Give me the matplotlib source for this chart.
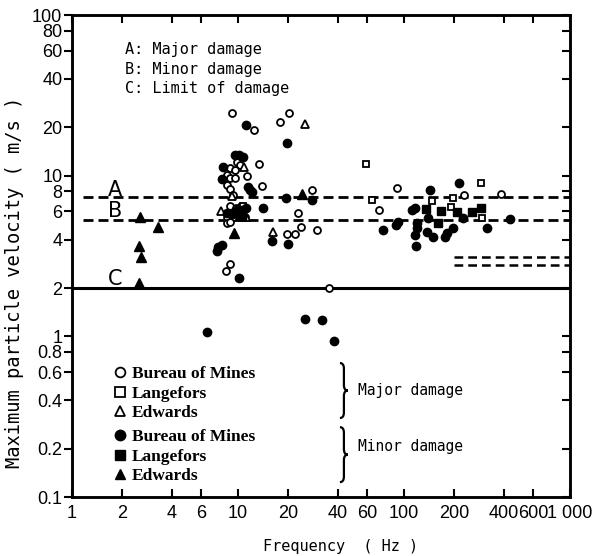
import numpy as np
import matplotlib
matplotlib.use("Agg")
import matplotlib.pyplot as plt
from matplotlib.lines import Line2D
from matplotlib.path import Path
from matplotlib.patches import PathPatch
from matplotlib.ticker import NullLocator
from matplotlib.font_manager import FontProperties

# --- datos (frecuencia Hz, velocidad m/s) ---
bom_major_f = [9.16, 12.5, 17.9, 20.3, 13.3, 9.8, 10.3, 8.95, 9.59, 8.55, 8.95, 9.59,
               11.3, 8.55, 8.95, 14.0, 9.33, 28.0, 8.95, 9.7, 10.4, 8.55, 9.33, 10.3,
               11.0, 23.0, 8.55, 8.95, 19.8, 22.1, 24.0, 29.8, 8.95, 8.43, 35.3, 71.0,
               90.3, 231, 383]
bom_major_v = [24.4, 19.2, 21.6, 24.4, 11.9, 12.2, 11.6, 11.1, 10.8, 10.1, 9.66, 9.66,
               9.95, 8.74, 8.26, 8.65, 7.57, 8.13, 6.47, 6.26, 6.47, 5.52, 5.52, 5.52,
               5.52, 5.83, 5.07, 5.16, 4.33, 4.33, 4.77, 4.58, 2.82, 2.56, 2.0, 6.11,
               8.41, 7.57, 7.68]

lang_major_f = [58.8, 63.9, 147, 198, 291, 191, 294, 10.7, 9.8]
lang_major_v = [11.8, 7.05, 6.98, 7.23, 9.04, 6.35, 5.42, 6.47, 6.02]

edw_major_f = [25.4, 7.87, 10.9, 16.3, 9.2, 10.3, 11.2]
edw_major_v = [21.1, 6.05, 11.3, 4.47, 7.45, 5.7, 5.52]

bom_minor_f = [11.1, 19.7, 9.59, 10.2, 10.7, 8.12, 7.98, 11.5, 11.8, 12.1, 19.5, 27.9,
               11.1, 14.2, 8.55, 9.16, 16.0, 19.9, 7.61, 7.98, 7.44, 10.2, 6.48, 25.3,
               32.2, 37.9, 143, 214, 111, 116, 139, 228, 119, 92.4, 75.0, 90.0, 119,
               116, 137, 150, 177, 181, 196, 318, 118, 435]
bom_minor_v = [20.6, 15.9, 13.4, 13.4, 13.1, 11.3, 9.52, 8.49, 8.13, 7.94, 7.23, 7.05,
               6.26, 6.26, 5.85, 5.77, 3.92, 3.74, 3.61, 3.70, 3.40, 2.30, 1.06, 1.28,
               1.26, 0.94, 8.13, 9.04, 6.11, 6.26, 5.42, 5.42, 5.09, 5.16, 4.58, 4.93,
               4.70, 4.27, 4.47, 4.17, 4.17, 4.37, 4.70, 4.70, 3.65, 5.37]

lang_minor_f = [136, 166, 161, 256, 290, 208, 9.4, 10.1, 10.5]
lang_minor_v = [6.17, 6.05, 5.05, 5.96, 6.26, 5.96, 5.9, 6.1, 5.6]

edw_minor_f = [2.57, 3.30, 2.53, 2.60, 2.53, 9.50, 24.3]
edw_minor_v = [5.52, 4.79, 3.65, 3.11, 2.15, 4.41, 7.68]

# niveles de dano
level_values = [7.36, 5.29]
level_start = 1.17
limit_value = 2.0
extra_levels = [3.1, 2.8]
extra_start = 200

xtick_vals = [1, 2, 4, 6, 10, 20, 40, 60, 100, 200, 400, 600, 1000]
xtick_labels = ["1", "2", "4", "6", "10", "20", "40", "60", "100", "200", "400", "600", "1 000"]
ytick_vals = [0.1, 0.2, 0.4, 0.6, 0.8, 1, 2, 4, 6, 8, 10, 20, 40, 60, 80, 100]
ytick_labels = ["0.1", "0.2", "0.4", "0.6", "0.8", "1", "2", "4", "6", "8",
                "10", "20", "40", "60", "80", "100"]

mono = "DejaVu Sans Mono"
tick_font = "Liberation Sans"


def draw_brace(ax, x0, y0, y1, w):
    """Dibuja una llave '}' en coordenadas de ejes."""
    h = y1 - y0
    ym = (y0 + y1) / 2
    xm = x0 + w / 2
    verts = [(x0, y1), (xm, y1), (xm, y1 - 0.1 * h),
             (xm, ym + 0.1 * h), (xm, ym), (x0 + w, ym),
             (xm, ym), (xm, ym - 0.1 * h),
             (xm, y0 + 0.1 * h), (xm, y0), (x0, y0)]
    codes = [Path.MOVETO, Path.CURVE3, Path.CURVE3,
             Path.LINETO, Path.CURVE3, Path.CURVE3,
             Path.CURVE3, Path.CURVE3,
             Path.LINETO, Path.CURVE3, Path.CURVE3]
    patch = PathPatch(Path(verts, codes), transform=ax.transAxes, fill=False,
                      lw=1.6, color="k", clip_on=False)
    ax.add_patch(patch)


fig = plt.figure(figsize=(6, 5.56), dpi=100)
ax = fig.add_axes([0.12, 0.106, 0.83, 0.867])
ax.set_xscale("log")
ax.set_yscale("log")
ax.set_xlim(1, 1000)
ax.set_ylim(0.1, 100)

# lineas de dano
dash = (0, (3.6, 1.8))
ax.hlines(level_values, level_start, 1000, colors="k", linestyles=[dash], lw=2)
ax.hlines([limit_value], 1, 1000, colors="k", lw=2.2)
ax.hlines(extra_levels, extra_start, 1000, colors="k", linestyles=[(0, (3.5, 2))], lw=1.8)

# puntos
open_kw = dict(ls="none", mfc="white", mec="k", mew=1.3)
fill_kw = dict(ls="none", color="k")
ax.plot(bom_major_f, bom_major_v, "o", ms=5, **open_kw)
ax.plot(lang_major_f, lang_major_v, "s", ms=5, **open_kw)
ax.plot(edw_major_f, edw_major_v, "^", ms=6, **open_kw)
ax.plot(bom_minor_f, bom_minor_v, "o", ms=6, **fill_kw)
ax.plot(lang_minor_f, lang_minor_v, "s", ms=5.5, **fill_kw)
ax.plot(edw_minor_f, edw_minor_v, "^", ms=6.5, **fill_kw)

# etiquetas A, B, C
for letter, yv in zip(["A", "B", "C"], [8.13, 6.05, 2.26]):
    ax.text(1.82, yv, letter, family="DejaVu Sans", fontsize=15, ha="center", va="center")

ax.text(2.09, 60.6, "A: Major damage", family=mono, fontsize=11, va="center")
ax.text(2.09, 46.0, "B: Minor damage", family=mono, fontsize=11, va="center")
ax.text(2.09, 35.1, "C: Limit of damage", family=mono, fontsize=11, va="center")

# leyendas
legprop = FontProperties(family="Liberation Serif", weight="bold", size=12.5)
h_major = [Line2D([], [], marker="o", ms=7, **open_kw),
           Line2D([], [], marker="s", ms=6.5, **open_kw),
           Line2D([], [], marker="^", ms=7.5, **open_kw)]
h_minor = [Line2D([], [], marker="o", ms=7.5, **fill_kw),
           Line2D([], [], marker="s", ms=6.5, **fill_kw),
           Line2D([], [], marker="^", ms=7.5, **fill_kw)]
names = ["Bureau of Mines", "Langefors", "Edwards"]
leg_kw = dict(loc="upper left", frameon=False, prop=legprop, handlelength=0.8,
              handletextpad=0.3, labelspacing=0.2, borderpad=0, borderaxespad=0)
leg1 = ax.legend(h_major, names, bbox_to_anchor=(0.082, 0.272), **leg_kw)
ax.add_artist(leg1)
ax.legend(h_minor, names, bbox_to_anchor=(0.082, 0.141), **leg_kw)

draw_brace(ax, 0.538, 0.164, 0.278, 0.016)
draw_brace(ax, 0.538, 0.031, 0.145, 0.016)
ax.text(0.574, 0.222, "Major damage", transform=ax.transAxes, family=mono,
        fontsize=10.5, va="center")
ax.text(0.574, 0.104, "Minor damage", transform=ax.transAxes, family=mono,
        fontsize=10.5, va="center")

# ejes
ax.set_xticks(xtick_vals)
ax.set_xticklabels(xtick_labels, family=tick_font, fontsize=13)
ax.set_yticks(ytick_vals)
ax.set_yticklabels(ytick_labels, family=tick_font, fontsize=13)
ax.xaxis.set_minor_locator(NullLocator())
ax.yaxis.set_minor_locator(NullLocator())
ax.tick_params(axis="x", direction="in", top=True, length=6, width=1.5, pad=6)
ax.tick_params(axis="y", direction="out", right=False, length=6, width=1.5, pad=1)
for sp in ax.spines.values():
    sp.set_linewidth(1.8)

ax2 = ax.twinx()
ax2.set_yscale("log")
ax2.set_ylim(0.1, 100)
ax2.set_yticks(ytick_vals)
ax2.yaxis.set_minor_locator(NullLocator())
ax2.tick_params(axis="y", direction="in", length=6, width=1.5, labelright=False)
for sp in ax2.spines.values():
    sp.set_linewidth(1.8)

ax.set_ylabel("Maximum particle velocity ( m/s )", family=mono, fontsize=13.5)
ax.yaxis.set_label_coords(-0.096, 0.446)
ax.set_xlabel("Frequency  ( Hz )", family=mono, fontsize=11, va="center")
ax.xaxis.set_label_coords(0.54, -0.102)

fig.savefig("out.png", dpi=100)
